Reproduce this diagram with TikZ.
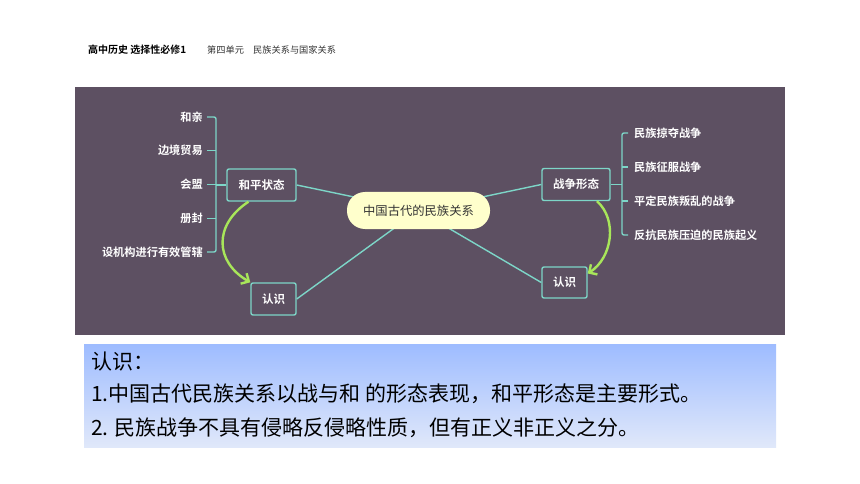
\documentclass[tikz,border=0pt]{standalone}
\usepackage{fontspec}
\setmainfont{Noto Sans CJK SC}[BoldFont={Noto Sans CJK SC Bold}]
\usetikzlibrary{arrows.meta,backgrounds}
\definecolor{panelgray}{RGB}{93,80,98}
\definecolor{mapcyan}{RGB}{125,214,200}
\definecolor{mapgreen}{RGB}{168,230,90}
\definecolor{pillyellow}{RGB}{255,255,204}
\definecolor{notetop}{RGB}{158,188,255}
\definecolor{notebottom}{RGB}{224,232,250}

\begin{document}
\begin{tikzpicture}[x=1pt,y=-1pt,
  mapbox/.style={draw=mapcyan, line width=1.4pt, rounded corners=2pt, fill=panelgray, text=white,
    font=\bfseries\fontsize{11.5}{12}\selectfont, inner sep=0pt, minimum height=32pt},
  leaf/.style={text=white, font=\bfseries\fontsize{11.2}{12}\selectfont, inner sep=0pt},
  link/.style={mapcyan, line width=1.4pt},
  bendarrow/.style={mapgreen, line width=2.4pt, -{Straight Barb[length=6pt,width=12pt]}},
  noteline/.style={anchor=west, inner sep=0pt, font=\fontsize{21}{22}\selectfont}]
\useasboundingbox (0,0) rectangle (860,484);

% Header
\node[anchor=west, inner sep=0pt, font=\bfseries\fontsize{10}{11}\selectfont] (book) at (88,50) {高中历史 选择性必修1};
\node[anchor=west, inner sep=0pt, text=black!80, font=\fontsize{9.2}{10}\selectfont] (unit) at (207,50) {第四单元\quad 民族关系与国家关系};

% Main nodes of the mind map
\node[draw=none, fill=pillyellow, rounded corners=18pt, minimum width=143pt, minimum height=37pt,
  inner sep=0pt, text=black!80, font=\fontsize{12.3}{13}\selectfont] (core) at (418.5,210.5) {中国古代的民族关系};
\node[mapbox, minimum width=69pt] (peace) at (261.5,185) {和平状态};
\node[mapbox, minimum width=68pt] (war) at (576,184.5) {战争形态};
\node[mapbox, minimum width=45pt] (know1) at (273.5,299) {认识};
\node[mapbox, minimum width=45pt, minimum height=31pt] (know2) at (564.5,282.5) {认识};

% Leaves on both sides
\foreach \t [count=\i] in {和亲,边境贸易,会盟,册封,设机构进行有效管辖} {
  \node[leaf, anchor=east] (pl\i) at (203,{117+33.75*(\i-1)}) {\t};
}
\foreach \t [count=\i] in {民族掠夺战争,民族征服战争,平定民族叛乱的战争,反抗民族压迫的民族起义} {
  \node[leaf, anchor=west] (wl\i) at (634,{133+34*(\i-1)}) {\t};
}

\begin{scope}[on background layer]
\fill[panelgray] (75,87) rectangle (785,335);
% connectors to the centre
\draw[link] (peace.east) -- (core.center);
\draw[link] (war.west) -- (core.center);
\draw[link] (know1.east) -- (core.center);
\draw[link] (know2.west) -- (core.center);
\end{scope}

% Brackets
\coordinate (pb) at (216,185);
\coordinate (wb) at (622,184.5);
\draw[link, rounded corners=2pt] ([xshift=4pt]pl1.east) -- (216,117) -- (216,252) -- ([xshift=4pt]pl5.east);
\foreach \i in {2,3,4} {
  \draw[link] ([xshift=4pt]pl\i.east) -- (216,{117+33.75*(\i-1)});
}
\draw[link] (pb) -- (peace.west);
\draw[link, rounded corners=2pt] ([xshift=-6pt]wl1.west) -- (622,133) -- (622,235) -- ([xshift=-6pt]wl4.west);
\foreach \i in {2,3} {
  \draw[link] ([xshift=-6pt]wl\i.west) -- (622,{133+34*(\i-1)});
}
\draw[link] (war.east) -- (wb);

% Green arrows
\draw[bendarrow] ([xshift=-13pt]peace.south) .. controls (213,225) and (215,262) .. (know1.north west);
\draw[bendarrow] ([xshift=21pt]war.south) .. controls (618,220) and (612,258) .. ([yshift=9pt]know2.east);

% Note box
\fill[top color=notetop, bottom color=notebottom] (84,344) rectangle (776,447);
\node[noteline] (note0) at (91,362) {认识：};
\node[noteline] (note1) at (91,394) {1.中国古代民族关系以战与和 的形态表现，和平形态是主要形式。};
\node[noteline] (note2) at (91,428) {2. 民族战争不具有侵略反侵略性质，但有正义非正义之分。};
\end{tikzpicture}
\end{document}
